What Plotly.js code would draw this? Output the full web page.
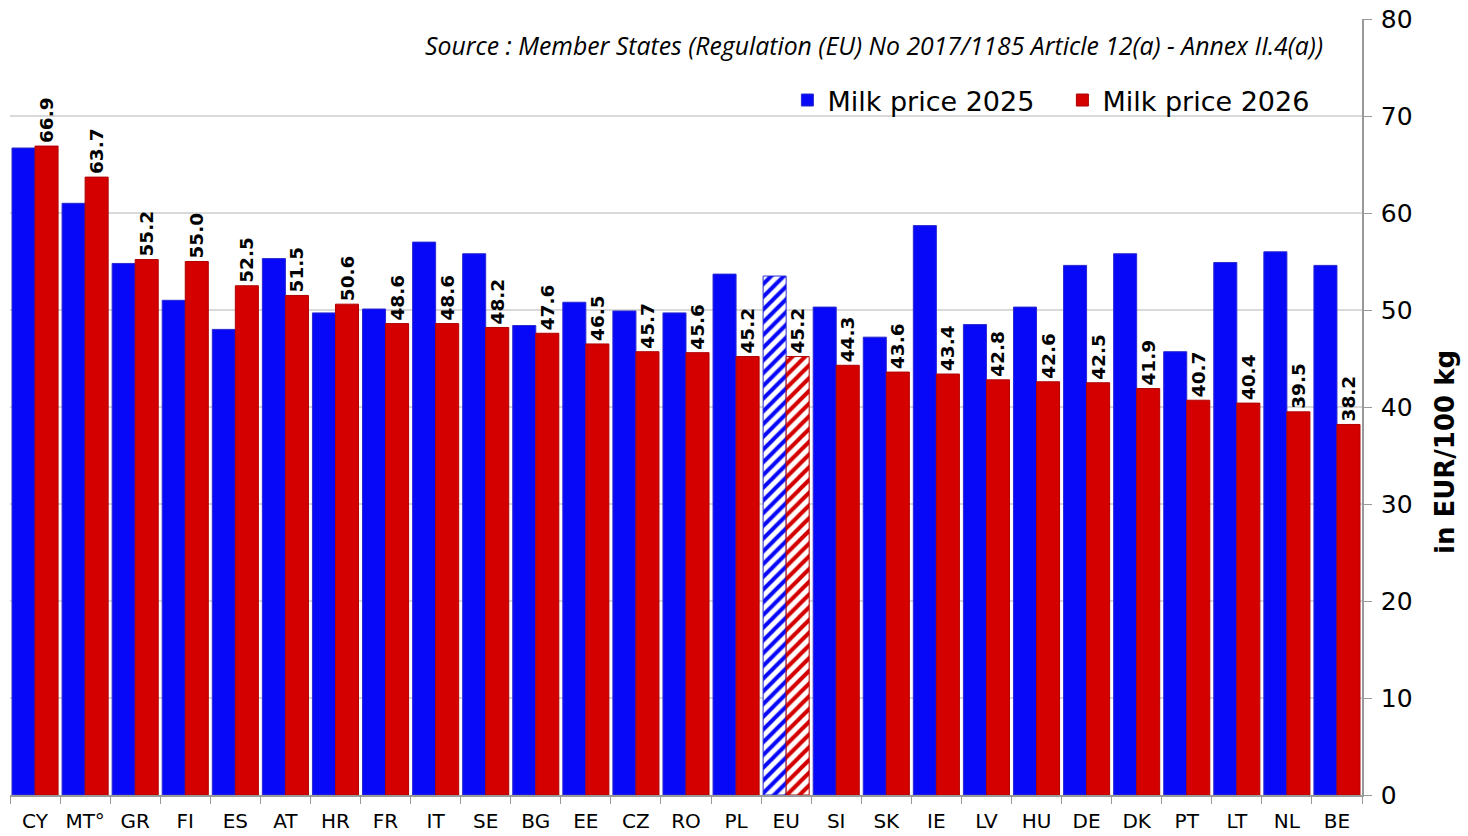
<!DOCTYPE html>
<html><head><meta charset="utf-8">
<script src="https://cdn.plot.ly/plotly-3.0.1.min.js"></script>
<style>html,body{margin:0;padding:0;background:#fff}#chart{width:1468px;height:836px}</style>
</head><body><div id="chart"></div>
<script>
const categories = ["CY","MT°","GR","FI","ES","AT","HR","FR","IT","SE","BG","EE","CZ","RO","PL","EU","SI","SK","IE","LV","HU","DE","DK","PT","LT","NL","BE"];
const price2025 = [66.7,61.0,54.8,51.0,48.0,55.3,49.7,50.1,57.0,55.8,48.4,50.8,49.9,49.7,53.7,53.5,50.3,47.2,58.7,48.5,50.3,54.6,55.8,45.7,54.9,56.0,54.6];
const price2026 = [66.9,63.7,55.2,55.0,52.5,51.5,50.6,48.6,48.6,48.2,47.6,46.5,45.7,45.6,45.2,45.2,44.3,43.6,43.4,42.8,42.6,42.5,41.9,40.7,40.4,39.5,38.2];
const highlight = "EU";

const BLUE = "#0808f8", RED = "#d40000";
const shapes = categories.map(c => c === highlight ? "/" : "");

const tr1 = {
  type: "bar", name: "Milk price 2025", x: categories, y: price2025,
  marker: {color: BLUE, line: {color: "#2a2ad0", width: 1},
    pattern: {shape: shapes, fillmode: "replace", fgcolor: BLUE, bgcolor: "white", size: 9, solidity: 0.45}},
  hoverinfo: "x+y"
};
const tr2 = {
  type: "bar", name: "Milk price 2026", x: categories, y: price2026,
  text: price2026.map(v => v.toFixed(1)), textposition: "outside", textangle: -90,
  constraintext: "none", cliponaxis: false,
  textfont: {family: "DejaVu Sans", size: 18.5, color: "#000", weight: "bold"},
  marker: {color: RED, line: {color: "#b00000", width: 1},
    pattern: {shape: shapes, fillmode: "replace", fgcolor: RED, bgcolor: "white", size: 9, solidity: 0.45}},
  hoverinfo: "x+y"
};

const layout = {
  width: 1468, height: 836,
  margin: {l: 10, r: 106, t: 19, b: 41},
  paper_bgcolor: "#fff", plot_bgcolor: "#fff",
  barmode: "group", bargap: 0.08, bargroupgap: 0,
  font: {family: "DejaVu Sans", color: "#000"},
  showlegend: true,
  legend: {orientation: "h", x: 0.575, xanchor: "left", y: 0.895, yanchor: "middle",
    font: {family: "DejaVu Sans", size: 27, color: "#000"}, bgcolor: "rgba(0,0,0,0)", traceorder: "normal",
    itemwidth: 30, tracegroupgap: 0, entrywidth: 230, entrywidthmode: "pixels"},
  xaxis: {type: "category", tickson: "boundaries", ticks: "outside", ticklen: 7, tickcolor: "#999",
    showline: true, linecolor: "#999", linewidth: 2, showgrid: false, tickangle: 0, ticklabelstandoff: 7,
    tickfont: {family: "DejaVu Sans", size: 20, color: "#000"}, fixedrange: true},
  yaxis: {side: "right", range: [0, 80], dtick: 10, ticks: "outside", ticklen: 8, tickcolor: "#999",
    showline: true, linecolor: "#999", linewidth: 1.5, gridcolor: "#d9d9d9", gridwidth: 1.5, zeroline: false,
    ticklabelstandoff: 4,
    tickfont: {family: "DejaVu Sans", size: 25, color: "#000"}},
  annotations: [{
    text: "Source : Member States (Regulation (EU) No 2017/1185 Article 12(a) - Annex II.4(a))",
    xref: "paper", yref: "paper", x: 0.9726, y: 0.9665, xanchor: "right", yanchor: "middle", showarrow: false,
    font: {family: "Open Sans", size: 24.8, color: "#000", style: "italic"}
  }, {
    text: "<b>in EUR/100 kg</b>", textangle: -90,
    xref: "paper", yref: "paper", x: 1.0614, y: 0.442, xanchor: "center", yanchor: "middle", showarrow: false,
    font: {family: "DejaVu Sans", size: 26, color: "#000"}
  }]
};

Plotly.newPlot("chart", [tr1, tr2], layout, {displayModeBar: false});
</script></body></html>
